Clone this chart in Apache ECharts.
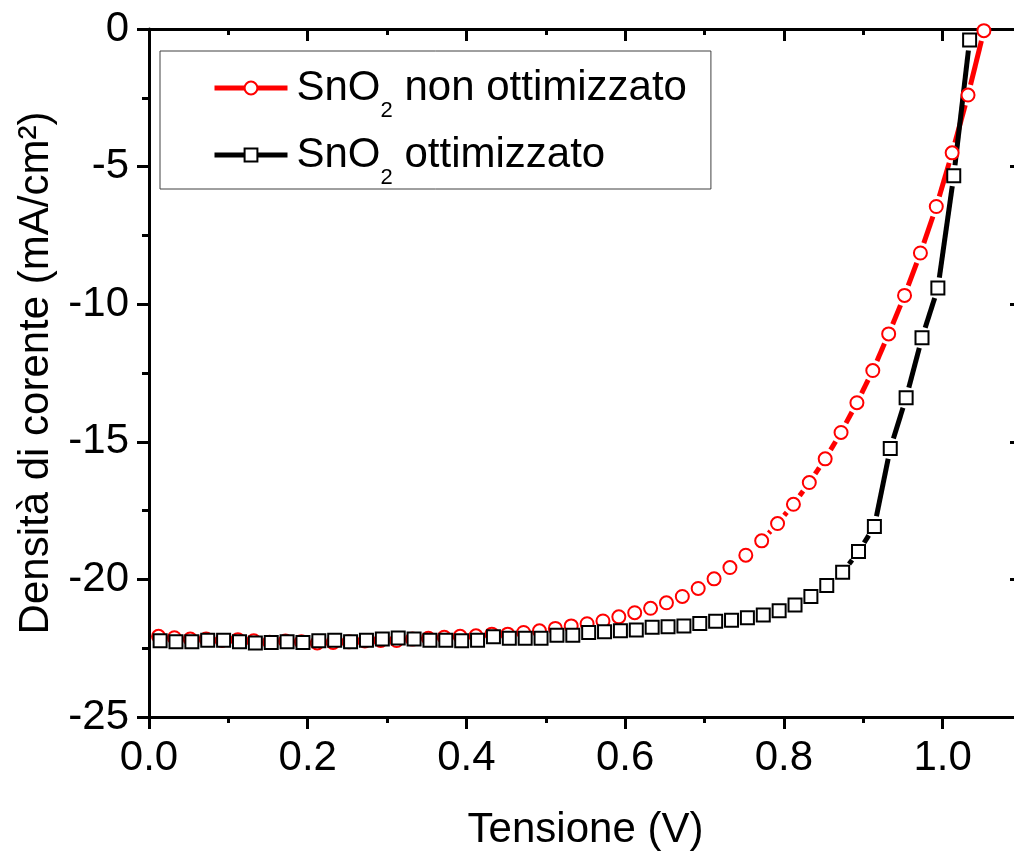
<!DOCTYPE html>
<html>
<head>
<meta charset="utf-8">
<script src="https://cdn.jsdelivr.net/npm/echarts@6/dist/echarts.min.js"></script>
<style>
  html, body { margin: 0; padding: 0; background: #ffffff; }
  #chart { width: 1014px; height: 856px; }
</style>
</head>
<body>
<div id="chart"></div>
<script>
// J-V curves of two perovskite cells with different SnO2 layers
const seriesNames = ['SnO2 non ottimizzato', 'SnO2 ottimizzato'];
const xTitle = 'Tensione (V)';
const yTitle = 'Densità di corente (mA/cm²)';

// SnO2 non ottimizzato (red circles)
const voltNon = [0.012, 0.032, 0.052, 0.072, 0.092, 0.112, 0.132, 0.152, 0.172, 0.192,
                 0.212, 0.232, 0.252, 0.272, 0.292, 0.312, 0.332, 0.352, 0.372, 0.392,
                 0.412, 0.432, 0.452, 0.472, 0.492, 0.512, 0.532, 0.552, 0.572, 0.592,
                 0.612, 0.632, 0.652, 0.672, 0.692, 0.712, 0.732, 0.752, 0.772, 0.792,
                 0.812, 0.832, 0.852, 0.872, 0.892, 0.912, 0.932, 0.952, 0.972, 0.992,
                 1.012, 1.032, 1.052];
const currNon = [-22.07, -22.12, -22.17, -22.17, -22.22, -22.19, -22.23, -22.28, -22.24, -22.27,
                 -22.31, -22.29, -22.27, -22.24, -22.22, -22.22, -22.17, -22.14, -22.10, -22.07,
                 -22.05, -21.99, -21.99, -21.93, -21.87, -21.78, -21.69, -21.61, -21.51, -21.36,
                 -21.21, -21.05, -20.85, -20.62, -20.33, -19.98, -19.57, -19.12, -18.60, -17.97,
                 -17.27, -16.48, -15.62, -14.66, -13.58, -12.41, -11.08, -9.68, -8.14, -6.45,
                 -4.50, -2.40, -0.06];

// SnO2 ottimizzato (black squares)
const voltOpt = [0.014, 0.034, 0.054, 0.074, 0.094, 0.114, 0.134, 0.154, 0.174, 0.194,
                 0.214, 0.234, 0.254, 0.274, 0.294, 0.314, 0.334, 0.354, 0.374, 0.394,
                 0.414, 0.434, 0.454, 0.474, 0.494, 0.514, 0.534, 0.554, 0.574, 0.594,
                 0.614, 0.634, 0.654, 0.674, 0.694, 0.714, 0.734, 0.754, 0.774, 0.794,
                 0.814, 0.834, 0.854, 0.874, 0.894, 0.914, 0.934, 0.954, 0.974, 0.994,
                 1.014, 1.034];
const currOpt = [-22.23, -22.27, -22.27, -22.21, -22.21, -22.27, -22.31, -22.29, -22.27, -22.29,
                 -22.23, -22.21, -22.27, -22.21, -22.17, -22.13, -22.17, -22.21, -22.21, -22.23,
                 -22.21, -22.08, -22.14, -22.14, -22.14, -22.03, -22.03, -21.93, -21.90, -21.87,
                 -21.84, -21.74, -21.72, -21.69, -21.60, -21.52, -21.48, -21.39, -21.29, -21.14,
                 -20.93, -20.62, -20.22, -19.74, -18.99, -18.08, -15.24, -13.40, -11.22, -9.41,
                 -5.33, -0.40];

const xTicks = { min: 0, max: 1.1, interval: 0.2 };
const yTicks = { min: -25, max: 0, interval: 5 };

const FONT = "'Liberation Sans', Arial, Helvetica, sans-serif";
const RED = '#ff0000';
const BLACK = '#000000';

const pairs = (xs, ys) => xs.map((x, i) => [x, ys[i]]);

// Connecting segments that stop short of each symbol, leaving a gap around it
function gappedLine(name, xs, ys, color, gap) {
  return {
    name: name,
    type: 'custom',
    coordinateSystem: 'cartesian2d',
    clip: true,
    silent: true,
    data: pairs(xs, ys),
    encode: { x: 0, y: 1 },
    renderItem: function (params, api) {
      const i = params.dataIndex;
      if (i >= xs.length - 1) return null;
      const p0 = api.coord([xs[i], ys[i]]);
      const p1 = api.coord([xs[i + 1], ys[i + 1]]);
      const dx = p1[0] - p0[0], dy = p1[1] - p0[1];
      const d = Math.hypot(dx, dy);
      if (d <= 2 * gap + 1) return null;
      const ux = dx / d, uy = dy / d;
      return {
        type: 'line',
        shape: {
          x1: p0[0] + ux * gap, y1: p0[1] + uy * gap,
          x2: p1[0] - ux * gap, y2: p1[1] - uy * gap
        },
        style: { stroke: color, lineWidth: 5, lineCap: 'butt' }
      };
    }
  };
}

function markers(name, xs, ys, color, symbol, size) {
  return {
    name: name,
    type: 'line',
    data: pairs(xs, ys),
    symbol: symbol,
    symbolSize: size,
    showSymbol: true,
    showAllSymbol: true,
    clip: true,
    silent: true,
    itemStyle: { color: color, borderColor: color, borderWidth: 1.5 },
    lineStyle: { color: color, width: 5, opacity: 0 },
    emphasis: { disabled: true }
  };
}

const axisLineStyle = { color: BLACK, width: 3 };

const chart = echarts.init(document.getElementById('chart'), null, { renderer: 'canvas' });
chart.setOption({
  animation: false,
  backgroundColor: '#ffffff',
  textStyle: { fontFamily: FONT, color: BLACK },
  grid: { left: 149, top: 29, width: 873, height: 688, outerBoundsMode: 'none' },
  legend: {
    orient: 'vertical',
    left: 160,
    top: 51,
    padding: [3, 24, 0, 52],
    itemGap: -1,
    itemWidth: 73,
    itemHeight: 16,
    borderColor: '#404040',
    borderWidth: 1,
    backgroundColor: '#ffffff',
    selectedMode: false,
    data: [
      { name: seriesNames[0], lineStyle: { opacity: 1, width: 5, color: RED } },
      { name: seriesNames[1], lineStyle: { opacity: 1, width: 5, color: BLACK } }
    ],
    formatter: function (name) {
      return '{a|SnO}{s|2}{b|' + name.slice(4) + '}';
    },
    textStyle: {
      color: BLACK,
      fontFamily: FONT,
      rich: {
        a: { fontSize: 42, lineHeight: 44, fontFamily: FONT, color: BLACK, padding: [0, 0, 0, 4] },
        s: { fontSize: 22, lineHeight: 22, fontFamily: FONT, color: BLACK, padding: [46, 0, 0, 0] },
        b: { fontSize: 42, lineHeight: 44, fontFamily: FONT, color: BLACK }
      }
    }
  },
  xAxis: [
    {
      type: 'value',
      position: 'bottom',
      min: xTicks.min, max: xTicks.max, interval: xTicks.interval,
      name: xTitle,
      nameLocation: 'middle',
      nameGap: 92,
      nameTextStyle: { fontSize: 42, color: BLACK, fontFamily: FONT },
      axisLine: { show: true, onZero: false, lineStyle: axisLineStyle },
      axisTick: { show: true, inside: false, length: 12, lineStyle: { color: BLACK, width: 3 } },
      minorTick: { show: true, splitNumber: 2, length: 6, lineStyle: { color: BLACK, width: 3 } },
      axisLabel: {
        fontSize: 42, color: BLACK, fontFamily: FONT, margin: 20,
        showMaxLabel: false,
        formatter: v => v.toFixed(1)
      },
      splitLine: { show: false }
    },
    {
      type: 'value',
      position: 'top',
      min: xTicks.min, max: xTicks.max, interval: xTicks.interval,
      axisLine: { show: true, onZero: false, lineStyle: axisLineStyle },
      axisTick: { show: true, inside: true, length: 12, lineStyle: { color: BLACK, width: 3 } },
      minorTick: { show: true, splitNumber: 2, length: 6, lineStyle: { color: BLACK, width: 3 } },
      axisLabel: { show: false },
      splitLine: { show: false }
    }
  ],
  yAxis: [
    {
      type: 'value',
      position: 'left',
      min: yTicks.min, max: yTicks.max, interval: yTicks.interval,
      name: yTitle,
      nameLocation: 'middle',
      nameGap: 85,
      nameRotate: 90,
      nameTextStyle: { fontSize: 42, color: BLACK, fontFamily: FONT },
      axisLine: { show: true, onZero: false, lineStyle: axisLineStyle },
      axisTick: { show: true, inside: false, length: 12, lineStyle: { color: BLACK, width: 3 } },
      minorTick: { show: true, splitNumber: 2, length: 7, lineStyle: { color: BLACK, width: 3 } },
      axisLabel: { fontSize: 42, color: BLACK, fontFamily: FONT, margin: 20 },
      splitLine: { show: false }
    },
    {
      type: 'value',
      position: 'right',
      min: yTicks.min, max: yTicks.max, interval: yTicks.interval,
      axisLine: { show: true, onZero: false, lineStyle: axisLineStyle },
      axisTick: { show: true, inside: true, length: 12, lineStyle: { color: BLACK, width: 3 } },
      minorTick: { show: true, splitNumber: 2, length: 6, lineStyle: { color: BLACK, width: 3 } },
      axisLabel: { show: false },
      splitLine: { show: false }
    }
  ],
  series: [
    gappedLine('tratto non ottimizzato', voltNon, currNon, RED, 10.5),
    markers(seriesNames[0], voltNon, currNon, RED, 'emptyCircle', 13),
    gappedLine('tratto ottimizzato', voltOpt, currOpt, BLACK, 10.5),
    markers(seriesNames[1], voltOpt, currOpt, BLACK, 'emptyRect', 13)
  ]
});
</script>
</body>
</html>
